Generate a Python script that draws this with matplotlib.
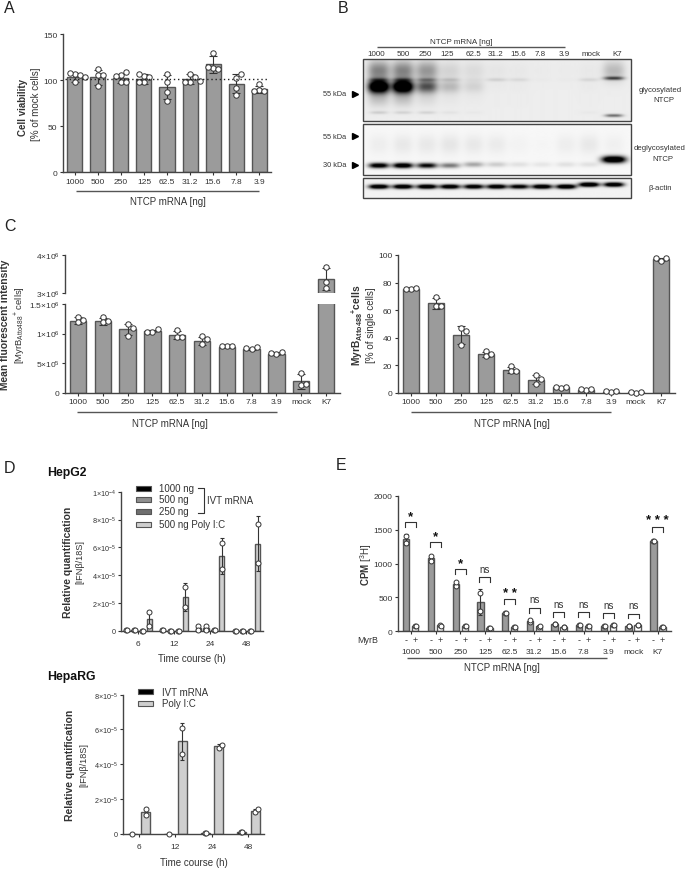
import matplotlib
matplotlib.use('Agg')
import matplotlib.pyplot as plt
import numpy as np
from matplotlib.patches import Rectangle

plt.rcParams['font.family'] = ['Liberation Sans', 'DejaVu Sans']
plt.rcParams['mathtext.fontset'] = 'custom'
plt.rcParams['mathtext.rm'] = 'Liberation Sans'
plt.rcParams['mathtext.bf'] = 'Liberation Sans:bold'
plt.rcParams['mathtext.default'] = 'regular'

W, H = 685, 870
BAR = '#9b9b9b'
EDGE = '#555555'
AXC = '#444444'
TXT = '#333333'

ntcp_doses = ['1000', '500', '250', '125', '62.5', '31.2', '15.6', '7.8', '3.9']
doses_ctrl = ntcp_doses + ['mock', 'K7']
times = ['6', '12', '24', '48']

# A, cell viability
via_mean = [103, 103, 102, 101, 92, 101, 117, 96, 90]
via_err = [5, 8, 5, 5, 13, 5, 9, 10, 4]
via_pts = [[106, 105, 108, 98, 103], [112, 105, 105, 93], [105, 109, 104, 98, 98],
           [104, 103, 107, 98, 98], [106.5, 97.5, 86.6, 77.5], [107, 103, 98, 98, 99],
           [129, 113, 112, 114], [102, 106, 91, 84], [96, 89, 88, 88]]
via_ref = 101.4

# C left, MFI in units of 1e6
mfi_mean = [1.22, 1.21, 1.07, 1.04, 0.97, 0.88, 0.78, 0.74, 0.66, 0.19, 3.37]
mfi_err = [.06, .06, .10, .02, .07, .07, .01, .02, .02, .12, .28]
mfi_pts = [[1.286, 1.19, 1.23], [1.286, 1.19, 1.22], [1.16, 1.10, .965], [1.026, 1.07, 1.03],
           [1.055, .94, .94], [.965, .90, .83], [.79, .785, .79], [.733, .778, .75],
           [.65, .68, .677], [.338, .124, .14], [3.69, 3.28, 3.14]]

# C right, percent positive
pos_mean = [75.3, 64.8, 42, 27.8, 16.5, 9.5, 3.8, 2, .8, .2, 96.8]
pos_err = [.4, 3.7, 6.3, 1.8, 2.3, 3, .6, .3, .2, .05, 1.2]
pos_pts = [[75, 75.8, 75.5], [69.2, 62.7, 62.7], [46.7, 44.5, 35], [30, 26.4, 28], [19.6, 15.5, 15.7],
           [12.6, 6.5, 9.7], [3.1, 4.1, 4.1], [1.9, 2.4, 2.4], [.7, 1, 1], [.1, .2, .2], [95.6, 97.8, 97.5]]

# D HepG2, units of 1e-5
hg2_labels = ['1000 ng', '500 ng', '250 ng', '500 ng Poly I:C']
hg2_colors = ['#000000', '#8f8f8f', '#6f6f6f', '#cfcfcf']
hg2_mean = [[.1, .1, .25, .02], [.05, .03, .25, .02], [.03, .02, .06, .01], [.85, 2.45, 5.38, 6.28]]
hg2_err = [[0, 0, .15, 0], [0, 0, .15, 0], [0, 0, .02, 0], [.55, 1.0, 1.3, 1.95]]
hg2_pts = [[[.1, .1], [.1, .07], [.36, .1], [.01, .01]],
           [[.05, .05], [.03, .03], [.36, .07], [.02, .02]],
           [[.03, .03], [.02, .02], [.07, .05], [.01, .01]],
           [[1.36, .33], [3.16, 1.75], [6.3, 4.45], [7.65, 4.9]]]

# D HepaRG, units of 1e-5
hrg_labels = ['IVT mRNA', 'Poly I:C']
hrg_colors = ['#000000', '#cfcfcf']
hrg_mean = [[.01, .01, .04, .08], [1.25, 5.32, 5.02, 1.33]]
hrg_err = [[0, 0, .01, .01], [.18, 1.05, .12, .12]]
hrg_pts = [[[.01], [.01], [.04, .05], [.08, .09]],
           [[1.44, 1.07], [6.06, 4.57], [4.93, 5.1], [1.25, 1.42]]]

# E, CPM
cpm_minus = [1360, 1078, 697, 434, 266, 152, 103, 95, 85, 85, 1340]
cpm_plus = [85, 90, 85, 50, 70, 75, 70, 75, 90, 90, 60]
cpm_minus_err = [77, 48, 38, 195, 4, 27, 6, 6, 6, 6, 10]
cpm_plus_err = [8, 12, 8, 8, 10, 12, 8, 8, 8, 8, 8]
cpm_minus_pts = [[1414, 1305], [1113, 1044], [670, 724], [571, 296], [266, 266], [133, 172],
                 [103, 103], [95, 95], [85, 85], [85, 85], [1340, 1340]]
cpm_plus_pts = [[85, 85], [95, 85], [85, 85], [50, 50], [70, 70], [70, 80], [70, 70], [75, 75],
                [90, 90], [90, 90], [60, 60]]
cpm_sig = ['*', '*', '*', 'ns', '**', 'ns', 'ns', 'ns', 'ns', 'ns', '***']
# bracket top and text height in reference pixels
sig_top = [523.3, 543.3, 570, 578.3, 600, 609, 613.3, 613.3, 614.3, 614.7, 528]
sig_text = [515, 535, 561.7, 570, 591.7, 600.3, 604.7, 605, 606, 606, 519.3]

# B, band strength by lane
blot_labels = doses_ctrl
blot_label_x = [376.7, 403, 425.7, 447.3, 473.3, 496, 518, 540.7, 564, 590.7, 616.7]
blot_lanes = [379, 403, 427, 450, 473.7, 496.7, 519, 542, 566, 589, 613.7]
gly_main = [1.4, 1.4, .6, .2, .1, .01, .01, 0, 0, .01, .0]
gly_smear = [.42, .42, .34, .1, .07, .03, .02, .01, .01, .02, .2]
gly_low = [.12, .1, .1, .04, .02, 0, 0, 0, 0, .02, .08]
gly_thin = [.2, .2, .2, .1, .02, .1, .07, .01, .01, .08, .6]
deg_main = [1.15, 1.25, 1.0, .5, .32, .17, .09, .07, .09, .09, 1.4]
deg_smear = [.04, .06, .06, .07, .06, .05, .02, .01, .04, .06, .03]
act_main = [1.3, 1.3, 1.3, 1.25, 1.2, 1.25, 1.1, 1.3, 1.35, 1.4, 1.3]


def px_axes(x0, x1, ytop, ybot):
    ax = fig.add_axes([x0 / W, 1 - ybot / H, (x1 - x0) / W, (ybot - ytop) / H])
    ax.patch.set_alpha(0)
    for s in ['top', 'right']:
        ax.spines[s].set_visible(False)
    for s in ['left', 'bottom']:
        ax.spines[s].set_color(AXC)
        ax.spines[s].set_linewidth(1)
    ax.tick_params(colors=TXT, length=2.5, width=.8, labelsize=6, pad=1.5)
    return ax


def swarm(vals, dy, d):
    # spread points sideways so circles do not sit on each other, result in px
    placed = []
    for v in vals:
        for k in [0, 1, -1, 2, -2, 3, -3]:
            off = k * d
            if all((off - o) ** 2 + ((v - w) * dy) ** 2 >= (d * .95) ** 2 for o, w in placed):
                break
        placed.append((off, v))
    return [p[0] for p in placed]


def draw_bar(ax, x, mean, err, pts, width, color, dx, dy, ms=3.9, d=5.2, capsize=3):
    ax.bar(x, mean, width, color=color, edgecolor=EDGE, linewidth=1, zorder=2)
    ax.errorbar(x, mean, yerr=err, color='#333333', capsize=capsize, elinewidth=.8, capthick=.8, zorder=3)
    offs = swarm(pts, dy, d)
    ax.plot([x + o / dx for o in offs], pts, 'o', mfc='white', mec='#333333', ms=ms, mew=.7,
            zorder=4, clip_on=False, ls='none')


def dose_axis(ax, labels):
    ax.set_xticks(range(len(labels)))
    ax.set_xticklabels(labels)


fig = plt.figure(figsize=(W / 100, H / 100), dpi=100)
ov = fig.add_axes([0, 0, 1, 1], zorder=10)
ov.set_xlim(0, W)
ov.set_ylim(H, 0)
ov.axis('off')


def t(x, y, s, size=7, weight='normal', ha='center', rot=0, color=TXT):
    ov.text(x, y, s, fontsize=size, fontweight=weight, ha=ha, va='center', rotation=rot, color=color)


def hline(x0, x1, y, lw=1, color='#555555'):
    ov.plot([x0, x1], [y, y], color=color, lw=lw, solid_capstyle='butt')


for let, x, y in [('A', 4, 8.5), ('B', 338, 8.5), ('C', 4, 226.7), ('D', 4, 469), ('E', 336, 465.7)]:
    t(x, y, let, size=11.5, ha='left', color='#222222')

# --- A
axA = px_axes(63, 271, 35, 173)
dx = 23
dy = 138 / 150
for i in range(9):
    draw_bar(axA, i, via_mean[i], via_err[i], via_pts[i], 15 / dx, BAR, dx, dy)
axA.axhline(via_ref, xmin=.01, xmax=.985, color='#222222', ls=(0, (1, 2)), lw=1, zorder=5)
dose_axis(axA, ntcp_doses)
axA.set_xlim(-.52, 8.52)
axA.set_ylim(0, 150)
axA.set_yticks([0, 50, 100, 150])
t(23, 108, 'Cell viability', weight='bold', rot=90)
t(36, 104, '[% of mock cells]', rot=90)
hline(76, 258.7, 192.3)
t(167.7, 201.7, 'NTCP mRNA [ng]')

# --- B, bands are drawn as soft blobs from the strength lists
def blot(x0, x1, y0, y1, bg, bands):
    xx, yy = np.meshgrid(np.linspace(x0, x1, int((x1 - x0) * 3)), np.linspace(y0, y1, int((y1 - y0) * 3)))
    dark = np.zeros_like(xx)
    for bx, by, wx, wy, amp in bands:
        dark += amp * np.exp(-np.abs((xx - bx) / wx) ** 3 - ((yy - by) / wy) ** 2)
    ov.imshow(bg - np.clip(dark, 0, bg), cmap='gray', vmin=0, vmax=1, extent=[x0, x1, y1, y0],
              aspect='auto', interpolation='bilinear')
    ov.add_patch(Rectangle((x0, y0), x1 - x0, y1 - y0, fill=False, ec='#444444', lw=1))


bands_top, bands_mid, bands_act = [], [], []
for i, bx in enumerate(blot_lanes):
    bands_top.append((bx, 88, 10.5, 6.5, gly_main[i]))
    bands_top.append((bx, 100, 10.5, 8, gly_main[i] * .12))
    bands_top.append((bx, 72, 11, 10, gly_smear[i]))
    bands_top.append((bx, 81 if i < 10 else 79.5, 10, 1.8, gly_thin[i]))
    bands_top.append((bx, 114 if i < 10 else 117, 9, 1.6, gly_low[i] if i < 10 else .5))
    by = 167 if i < 4 else 166
    bands_mid.append((bx, 161 if i == 10 else by, 12 if i == 10 else 10, 3.5 if i == 10 else 2.6, deg_main[i]))
    bands_mid.append((bx, 146, 10, 10, deg_smear[i]))
    bands_act.append((bx, 186 if i >= 9 else 188, 10, 2.2, act_main[i]))
blot(363.3, 630.7, 60.3, 122.3, .93, bands_top)
blot(363.3, 630.7, 124.7, 176.3, .97, bands_mid)
blot(363.3, 630.7, 178.7, 199, .95, bands_act)
ov.set_xlim(0, W)
ov.set_ylim(H, 0)
for x, s in zip(blot_label_x, blot_labels):
    t(x, 55, s, size=5.8)
hline(376.7, 565, 47.7)
t(461, 42, 'NTCP mRNA [ng]', size=5.8)
for y, s in [(94.7, '55 kDa'), (137.3, '55 kDa'), (165.7, '30 kDa')]:
    t(346.5, y, s, size=5.3, ha='right')
    ov.plot([355], [y], marker='>', color='black', ms=4.5, ls='none')
t(660, 90, 'glycosylated', size=5.6)
t(664, 101, 'NTCP', size=5.6)
t(660, 148.7, 'deglycosylated', size=5.6)
t(663, 159.5, 'NTCP', size=5.6)
t(660, 189, 'β-actin', size=5.6)

# --- C left, broken axis
axC1 = px_axes(65, 340, 305, 393.7)
axC2 = px_axes(65, 340, 255.7, 294)
dx = 24.8
c_left = (65 - 78) / dx
c_right = (340 - 78) / dx
dy = 88.7 / 1.5
for i in range(10):
    draw_bar(axC1, i, mfi_mean[i], mfi_err[i], mfi_pts[i], 16.5 / dx, BAR, dx, dy)
axC1.bar(10, mfi_mean[10], 16.5 / dx, color=BAR, edgecolor=EDGE, linewidth=1, zorder=2)
draw_bar(axC2, 10, mfi_mean[10], mfi_err[10], mfi_pts[10], 16.5 / dx, BAR, dx, 38.3, d=5.2)
dose_axis(axC1, doses_ctrl)
axC1.set_xlim(c_left, c_right)
axC2.set_xlim(c_left, c_right)
axC1.set_ylim(0, 1.5)
axC2.set_ylim(3, 4)
axC1.set_yticks([0, .5, 1, 1.5])
axC1.set_yticklabels(['0', '5×10$^{5}$', '1×10$^{6}$', '1.5×10$^{6}$'])
axC2.set_yticks([3, 4])
axC2.set_yticklabels(['3×10$^{6}$', '4×10$^{6}$'])
axC2.spines['bottom'].set_visible(False)
axC2.set_xticks([])
t(5, 325, 'Mean fluorescent intensity', size=7.4, weight='bold', rot=90)
t(20, 325, '[MyrB$_{Atto488}$$^{+}$ cells]', size=6.8, rot=90)
hline(76.7, 276.7, 413)
t(170, 424, 'NTCP mRNA [ng]')

# --- C right
axC3 = px_axes(398, 675, 256, 393.7)
dx = 25
dy = 137.7 / 100
for i in range(11):
    draw_bar(axC3, i, pos_mean[i], pos_err[i], pos_pts[i], 16.5 / dx, BAR, dx, dy)
dose_axis(axC3, doses_ctrl)
axC3.set_xlim((398 - 411) / dx, (675 - 411) / dx)
axC3.set_ylim(0, 100)
axC3.set_yticks(range(0, 101, 20))
t(357, 325, 'MyrB$_{\\mathbf{Atto488}}$$^{\\mathbf{+}}$cells', size=7.4, weight='bold', rot=90)
t(371, 325, '[% of single cells]', rot=90)
hline(410.7, 610.7, 413)
t(512, 424, 'NTCP mRNA [ng]')

# --- D HepG2
axD1 = px_axes(121.5, 262.7, 492.7, 632)
dx = 36.1
dy = 139.3 / 10
for j, s in enumerate(hg2_labels):
    for i in range(4):
        draw_bar(axD1, i + (j - 1.5) * 7.7 / dx, hg2_mean[j][i], hg2_err[j][i], hg2_pts[j][i],
                 5.3 / dx, hg2_colors[j], dx, dy, ms=3.6, d=1, capsize=1.5)
axD1.set_xticks(range(4))
axD1.set_xticklabels(times)
axD1.set_xlim(-.449, 3.46)
axD1.set_ylim(0, 10)
axD1.set_yticks([0, 2, 4, 6, 8, 10])
axD1.set_yticklabels(['0', '2×10$^{-5}$', '4×10$^{-5}$', '6×10$^{-5}$', '8×10$^{-5}$', '1×10$^{-4}$'], fontsize=5.2)
axD1.tick_params(axis='x', pad=4)
t(47, 472.7, 'HepG2', size=8.8, weight='bold', ha='left', color='#111111')
t(67.7, 562, 'Relative quantification', size=7.5, weight='bold', rot=90)
t(80.3, 561.7, '[IFNβ/18S]', size=6.6, rot=90)
t(192, 659, 'Time course (h)')
for y, s, c in zip([489.3, 500.3, 512.3, 525], hg2_labels, hg2_colors):
    ov.add_patch(Rectangle((136.5, y - 2.5), 14.5, 5, fc=c, ec=EDGE, lw=.8))
    t(159.3, y, s, ha='left')
ov.plot([198, 204, 204, 198], [489, 489, 514, 514], color=TXT, lw=.8)
t(207.3, 500.7, 'IVT mRNA', ha='left')

# --- D HepaRG
axD2 = px_axes(123.3, 264, 695.7, 834.7)
dx = 36.4
dy = 139 / 8
for j in range(2):
    for i in range(4):
        draw_bar(axD2, i + (j - .5) * 13.7 / dx, hrg_mean[j][i], hrg_err[j][i], hrg_pts[j][i],
                 9 / dx, hrg_colors[j], dx, dy, ms=3.6, d=3.2 if j else .5, capsize=1.5)
axD2.set_xticks(range(4))
axD2.set_xticklabels(times)
axD2.set_xlim(-.431, 3.43)
axD2.set_ylim(0, 8)
axD2.set_yticks([0, 2, 4, 6, 8])
axD2.set_yticklabels(['0', '2×10$^{-5}$', '4×10$^{-5}$', '6×10$^{-5}$', '8×10$^{-5}$'], fontsize=5.2)
axD2.tick_params(axis='x', pad=4)
t(47, 677.3, 'HepaRG', size=8.8, weight='bold', ha='left', color='#111111')
t(69.7, 765.7, 'Relative quantification', size=7.5, weight='bold', rot=90)
t(83.7, 765, '[IFNβ/18S]', size=6.6, rot=90)
t(194, 862.7, 'Time course (h)')
for y, s, c in zip([692.7, 704], hrg_labels, hrg_colors):
    ov.add_patch(Rectangle((138.5, y - 2.5), 14.5, 5, fc=c, ec=EDGE, lw=.8))
    t(161.7, y, s, ha='left')

# --- E
axE = px_axes(398.3, 670.7, 497, 632.3)
dx = 24.7
dy = 135.3 / 2000
off = 4.5 / dx
for i in range(11):
    draw_bar(axE, i - off, cpm_minus[i], cpm_minus_err[i], cpm_minus_pts[i], 6.3 / dx, BAR, dx, dy,
             ms=3.5, d=.8, capsize=1.5)
    draw_bar(axE, i + off, cpm_plus[i], cpm_plus_err[i], cpm_plus_pts[i], 6.3 / dx, 'white', dx, dy,
             ms=3.5, d=.8, capsize=1.5)
    axE.text(i - off, -.063, '-', transform=axE.get_xaxis_transform(), ha='center', va='center', fontsize=6.5, color=TXT)
    axE.text(i + off, -.063, '+', transform=axE.get_xaxis_transform(), ha='center', va='center', fontsize=6.5, color=TXT)
    xa = 410.8 + 24.7 * i
    ov.plot([xa - 5.5, xa - 5.5, xa + 5.5, xa + 5.5], [sig_top[i] + 4.5, sig_top[i], sig_top[i], sig_top[i] + 4.5],
            color=TXT, lw=.8)
    if cpm_sig[i] == 'ns':
        t(xa, sig_text[i], 'ns', size=7)
    else:
        t(xa, sig_text[i] + 2, ' '.join(cpm_sig[i]) if len(cpm_sig[i]) > 1 else cpm_sig[i], size=9.5, weight='bold', color='#111111')
axE.set_xticks(range(11))
axE.set_xticklabels(doses_ctrl)
axE.tick_params(axis='x', pad=9.5)
axE.set_xlim(-.506, 10.52)
axE.set_ylim(0, 2000)
axE.set_yticks(range(0, 2001, 500))
t(368, 640.7, 'MyrB', size=6.4)
t(366.5, 565, '$\\mathbf{CPM}$ [$^{3}$H]', rot=90)
hline(406.7, 607.3, 659.3)
t(502, 668, 'NTCP mRNA [ng]')

fig.savefig('out.png', dpi=100)
